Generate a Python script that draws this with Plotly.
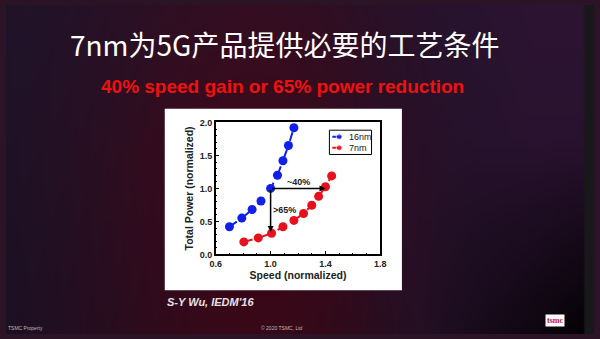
import base64, struct, zlib
import numpy as np
import plotly.graph_objects as go

# ---- data ----
speed_16 = [0.70, 0.79, 0.865, 0.93, 1.0, 1.05, 1.09, 1.13, 1.17]
power_16 = [0.42, 0.55, 0.68, 0.81, 1.0, 1.20, 1.42, 1.65, 1.92]
speed_7 = [0.805, 0.91, 1.007, 1.09, 1.17, 1.24, 1.30, 1.35, 1.40, 1.445]
power_7 = [0.19, 0.25, 0.32, 0.42, 0.515, 0.62, 0.745, 0.88, 1.025, 1.19]
series_names = ["16nm", "7nm"]
series_colors = ["#1020e8", "#e8101c"]
x_ticks = [0.6, 1.0, 1.4, 1.8]
y_ticks = [0.0, 0.5, 1.0, 1.5, 2.0]
ref_point = (1.0, 1.0)
speed_gain_end = (1.4, 1.0)
power_red_end = (1.0, 0.34)
speed_label = "~40%"
power_label = ">65%"
title = "7nm为5G产品提供必要的工艺条件"
subtitle = "40% speed gain or 65% power reduction"
citation = "S-Y Wu, IEDM'16"

W, H = 600, 339

# ---- background gradient as PNG data URI ----
def make_png(arr):
    h, w, _ = arr.shape
    raw = b"".join(b"\x00" + arr[i].astype(np.uint8).tobytes() for i in range(h))
    def chunk(t, d):
        c = struct.pack(">I", len(d)) + t + d
        return c + struct.pack(">I", zlib.crc32(t + d) & 0xffffffff)
    png = b"\x89PNG\r\n\x1a\n" + chunk(b"IHDR", struct.pack(">IIBBBBB", w, h, 8, 2, 0, 0, 0))
    png += chunk(b"IDAT", zlib.compress(raw, 9)) + chunk(b"IEND", b"")
    return "data:image/png;base64," + base64.b64encode(png).decode()

gw, gh = 300, 170
u = np.linspace(0, 1, gw)[None, :, None]
v = np.linspace(0, 1, gh)[:, None, None]
left = np.array([30, 20, 42])[None, None, :]
mid = np.array([66, 10, 28])[None, None, :]
right = np.array([44, 20, 50])[None, None, :]
wl = np.exp(-((u - 0.42) / 0.28) ** 2) * (0.6 + 0.4 * np.clip(v * 2, 0, 1))
wr = np.clip((u - 0.58) / 0.32, 0, 1)
col = left * (1 - wl) + mid * wl
col = col * (1 - wr) + right * wr
dark = np.clip((u - 0.7) / 0.3, 0, 1) * np.clip((v - 0.4) / 0.6, 0, 1)
col = col * (1 - 0.9 * dark)
col = col * (1 - 0.15 * v)
img = np.broadcast_to(col, (gh, gw, 3)).copy()
img[:, int(gw * 590 / 600):, :] = [24, 24, 26]
bg_uri = make_png(np.clip(img, 0, 255))

fig = go.Figure()
for xs, ys, name, c in [(speed_16, power_16, series_names[0], series_colors[0]),
                        (speed_7, power_7, series_names[1], series_colors[1])]:
    fig.add_trace(go.Scatter(x=xs, y=ys, name=name, mode="lines+markers", showlegend=False,
                             line=dict(color=c, width=2, dash="dash"),
                             marker=dict(color=c, size=9)))

# custom compact legend swatches (in a small overlay axis)
for i, (name, c) in enumerate(zip(series_names, series_colors)):
    fig.add_trace(go.Scatter(x=[3, 10, 17], y=[i, i, i], mode="lines+markers",
                             xaxis="x2", yaxis="y2", showlegend=False, hoverinfo="skip",
                             line=dict(color=c, width=2, dash="dash"),
                             marker=dict(color=c, size=[0, 6, 0])))

bold = dict(family="Liberation Sans, Arial", color="#222", weight="bold")

x0, x1 = 214 / W, 382 / W
y0, y1 = 1 - 257 / H, 1 - 121 / H
lx0, lx1 = 330 / W, 373 / W
ly0, ly1 = 1 - 154 / H, 1 - 129 / H

fig.update_layout(
    width=W, height=H, margin=dict(l=0, r=0, t=0, b=0),
    paper_bgcolor="#2a1426", plot_bgcolor="white",
    showlegend=False,
    xaxis=dict(domain=[x0, x1], range=[0.6, 1.8], tickvals=x_ticks, tickformat=".1f",
               showgrid=False, zeroline=False, showline=True, linecolor="black", linewidth=1.5,
               mirror=True, ticks="inside", ticklen=4, tickcolor="black",
               minor=dict(dtick=0.1, ticks="inside", ticklen=2, tickcolor="black"),
               tickfont=dict(size=9, **bold),
               title=dict(text="Speed (normalized)", font=dict(size=10.5, **bold), standoff=4)),
    yaxis=dict(domain=[y0, y1], range=[0, 2], tickvals=y_ticks, tickformat=".1f",
               showgrid=False, zeroline=False, showline=True, linecolor="black", linewidth=1.5,
               mirror=True, ticks="inside", ticklen=4, tickcolor="black",
               minor=dict(dtick=0.1, ticks="inside", ticklen=2, tickcolor="black"),
               tickfont=dict(size=9, **bold),
               title=dict(text="Total Power (normalized)", font=dict(size=10.5, **bold), standoff=4)),
    xaxis2=dict(domain=[lx0, lx1], range=[0, 43], visible=False, fixedrange=True),
    yaxis2=dict(domain=[ly0, ly1], range=[1.6, -0.6], visible=False, fixedrange=True),
    images=[dict(source=bg_uri, xref="paper", yref="paper", x=0, y=1, sizex=1, sizey=1,
                 xanchor="left", yanchor="top", sizing="stretch", layer="below")],
    shapes=[dict(type="rect", xref="paper", yref="paper", x0=162 / W, x1=404 / W,
                 y0=1 - 294 / H, y1=1 - 107 / H, fillcolor="white", line=dict(width=0),
                 layer="below"),
            dict(type="rect", xref="paper", yref="paper", x0=lx0, x1=lx1, y0=ly0, y1=ly1,
                 line=dict(color="black", width=1), fillcolor="rgba(0,0,0,0)")],
)

anns = [
    dict(x=speed_gain_end[0], y=speed_gain_end[1], ax=ref_point[0], ay=ref_point[1],
         xref="x", yref="y", axref="x", ayref="y", showarrow=True, arrowhead=2,
         arrowsize=0.8, arrowwidth=1.5, arrowcolor="black", text=""),
    dict(x=power_red_end[0], y=power_red_end[1], ax=ref_point[0], ay=ref_point[1],
         xref="x", yref="y", axref="x", ayref="y", showarrow=True, arrowhead=2,
         arrowsize=0.8, arrowwidth=1.5, arrowcolor="black", text=""),
    dict(x=1.2, y=1.1, xref="x", yref="y", text=speed_label, showarrow=False,
         font=dict(size=9, **bold)),
    dict(x=1.1, y=0.67, xref="x", yref="y", text=power_label, showarrow=False,
         font=dict(size=9, **bold)),
    dict(x=284 / W, y=1 - 40 / H, xref="paper", yref="paper", text=title, showarrow=False,
         yanchor="middle", xanchor="center",
         font=dict(family="Noto Sans CJK SC", size=28, color="white")),
    dict(x=282 / W, y=1 - 84 / H, xref="paper", yref="paper", text=subtitle, showarrow=False,
         yanchor="middle", xanchor="center",
         font=dict(family="Liberation Sans, Arial", size=19, color="#f01010", weight="bold")),
    dict(x=162 / W, y=1 - 306 / H, xref="paper", yref="paper", text="<i>" + citation + "</i>",
         xanchor="left", yanchor="middle", showarrow=False,
         font=dict(family="Liberation Sans, Arial", size=11, color="#e8e0e8", weight="bold")),
    dict(x=0, y=1 - 333 / H, xref="paper", yref="paper", text="TSMC Property", xanchor="left",
         yanchor="middle", showarrow=False,
         font=dict(family="Liberation Sans, Arial", size=5, color="#bbb")),
    dict(x=282 / W, y=1 - 333 / H, xref="paper", yref="paper", text="© 2020 TSMC, Ltd",
         yanchor="middle", showarrow=False,
         font=dict(family="Liberation Sans, Arial", size=5, color="#bbb")),
    dict(x=570 / W, y=1 - 325 / H, xref="paper", yref="paper", text="<b>tsmc</b>",
         yanchor="middle", showarrow=False, bgcolor="white", borderpad=1,
         font=dict(family="Liberation Serif", size=8, color="#d01020")),
]
for i, name in enumerate(series_names):
    anns.append(dict(x=18, y=i, xref="x2", yref="y2", text=name, xanchor="left",
                     yanchor="middle", showarrow=False,
                     font=dict(family="Liberation Sans, Arial", size=9, color="#222")))
fig.update_layout(annotations=anns)
fig.write_html("out.html")
